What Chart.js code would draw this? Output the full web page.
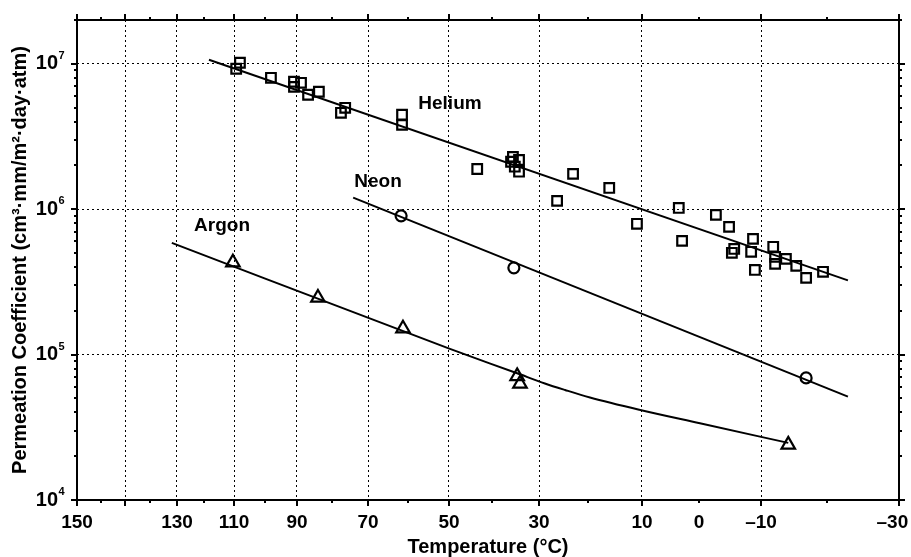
<!DOCTYPE html>
<html><head><meta charset="utf-8">
<script src="https://cdn.jsdelivr.net/npm/chart.js@4"></script>
<style>html,body{margin:0;padding:0;background:#fff}#wrap{width:911px;height:557px}</style>
</head><body><div id="wrap"><canvas id="c"></canvas></div>
<script>
// x axis is reciprocal temperature, 1000/T (K^-1); labels show nominal °C
const xTickValues = [2.3632, 2.4143, 2.4654, 2.5186, 2.5760, 2.6335, 2.6974, 2.7633, 2.8314, 2.9059, 2.9826, 3.0677, 3.1549, 3.2465, 3.3465, 3.4508, 3.5657, 3.6870, 3.8190, 3.9594, 4.1127];
const xTickLabels = ['150','','','','130','','110','','90','','70','','50','','30','','10','0','–10','','–30\u2002\u2009'];
const yDecades = [1e4, 1e5, 1e6, 1e7];
const yMin = 1e4, yMax = 2e7;

const heliumX = [2.710, 2.702, 2.776, 2.825, 2.840, 2.825, 2.855, 2.878, 2.934, 2.925, 3.055, 3.055, 3.215, 3.291, 3.304, 3.287, 3.295, 3.304, 3.419, 3.385, 3.496, 3.555, 3.644, 3.651, 3.723, 3.751, 3.762, 3.757, 3.802, 3.798, 3.806, 3.845, 3.849, 3.849, 3.872, 3.894, 3.915, 3.951];
const heliumP = [1.016e7, 9.24e6, 8.01e6, 7.52e6, 7.40e6, 6.94e6, 6.12e6, 6.42e6, 4.98e6, 4.60e6, 4.46e6, 3.80e6, 1.89e6, 2.29e6, 2.18e6, 2.12e6, 1.96e6, 1.81e6, 1.75e6, 1.14e6, 1.40e6, 7.93e5, 1.02e6, 6.05e5, 9.14e5, 7.56e5, 5.33e5, 5.01e5, 6.25e5, 5.09e5, 3.82e5, 5.51e5, 4.70e5, 4.21e5, 4.55e5, 4.08e5, 3.37e5, 3.71e5];
const neonX = [3.053, 3.293, 3.915];
const neonP = [9.00e5, 3.95e5, 6.91e4];
const argonX = [2.695, 2.876, 3.057, 3.300, 3.306, 3.877];
const argonP = [4.30e5, 2.46e5, 1.51e5, 7.1e4, 6.3e4, 2.4e4];

const heliumFitX = [2.644, 4.004];
const heliumFitP = [1.065e7, 3.24e5];
const neonFitX = [2.951, 4.004];
const neonFitP = [1.202e6, 5.14e4];
const argonFitX = [2.565, 3.157, 3.300, 3.359, 3.402, 3.455, 3.562, 3.689, 3.877];
const argonFitP = [5.87e5, 1.094e5, 7.44e4, 6.33e4, 5.71e4, 5.07e4, 4.16e4, 3.37e4, 2.47e4];

const gasNames = ['Helium', 'Neon', 'Argon'];
const gasLabelX = [3.157, 3.004, 2.672];
const gasLabelP = [5.31e6, 1.542e6, 7.68e5];

const FONT = '"Liberation Sans", Arial, Helvetica, sans-serif';
const pts = (xs, ys) => xs.map((v, i) => ({x: v, y: ys[i]}));

const yTickValues = [];
yDecades.forEach(d => { for (let m = 1; m <= 9; m++) { const v = m * d; if (v <= yMax) yTickValues.push(v); } });
const isDecade = v => Math.abs(Math.log10(v) - Math.round(Math.log10(v))) < 1e-9;

const framePlugin = {
  id: 'frame',
  afterDraw(chart) {
    const {ctx, chartArea: a, scales: {x, y}} = chart;
    ctx.save();
    ctx.strokeStyle = '#000';
    ctx.lineWidth = 2;
    ctx.beginPath();
    xTickValues.forEach((v, i) => {
      const px = Math.round(x.getPixelForValue(v));
      const L = i % 2 === 0 ? 6 : 3;
      ctx.moveTo(px, a.bottom); ctx.lineTo(px, a.bottom + L);
      ctx.moveTo(px, a.top); ctx.lineTo(px, a.top - L);
    });
    yTickValues.forEach(v => {
      const py = Math.round(y.getPixelForValue(v));
      const L = isDecade(v) ? 6 : 3;
      ctx.moveTo(a.left, py); ctx.lineTo(a.left - L, py);
      ctx.moveTo(a.right, py); ctx.lineTo(a.right + L, py);
    });
    ctx.stroke();
    ctx.strokeRect(a.left, a.top, a.right - a.left, a.bottom - a.top);
    // y tick labels 10^n
    ctx.fillStyle = '#000';
    yDecades.forEach(d => {
      const py = y.getPixelForValue(d);
      const e = Math.round(Math.log10(d));
      ctx.font = 'bold 20px ' + FONT;
      ctx.textAlign = 'right'; ctx.textBaseline = 'middle';
      ctx.fillText('10', a.left - 19, py);
      ctx.font = 'bold 11px ' + FONT;
      ctx.textAlign = 'left';
      ctx.fillText(String(e), a.left - 18.5, py - 8);
    });
    // gas labels
    ctx.font = 'bold 19px ' + FONT;
    ctx.textAlign = 'center'; ctx.textBaseline = 'middle';
    gasNames.forEach((n, i) => {
      ctx.fillText(n, x.getPixelForValue(gasLabelX[i]), y.getPixelForValue(gasLabelP[i]));
    });
    ctx.restore();
  }
};

const markerBase = {showLine: false, borderColor: '#000', backgroundColor: 'rgba(0,0,0,0)', borderWidth: 2.2};
const fitBase = {showLine: true, borderColor: '#000', borderWidth: 2, pointRadius: 0, pointHoverRadius: 0, fill: false};

new Chart(document.getElementById('c'), {
  type: 'scatter',
  data: {
    datasets: [
      {...fitBase, label: 'Helium fit', data: pts(heliumFitX, heliumFitP)},
      {...fitBase, label: 'Neon fit', data: pts(neonFitX, neonFitP)},
      {...fitBase, label: 'Argon fit', data: pts(argonFitX, argonFitP), cubicInterpolationMode: 'monotone'},
      {...markerBase, label: 'Helium', data: pts(heliumX, heliumP), pointStyle: 'rect', pointRadius: 6.8},
      {...markerBase, label: 'Neon', data: pts(neonX, neonP), pointStyle: 'circle', pointRadius: 5.5},
      {...markerBase, label: 'Argon', data: pts(argonX, argonP), pointStyle: 'triangle', pointRadius: 7.8}
    ]
  },
  options: {
    responsive: true,
    maintainAspectRatio: false,
    animation: false,
    events: [],
    layout: {padding: {top: 20, right: 12, left: 0, bottom: 0}, autoPadding: false},
    plugins: {legend: {display: false}, tooltip: {enabled: false}},
    scales: {
      x: {
        type: 'linear', min: 2.3632, max: 4.1127,
        afterBuildTicks: s => { s.ticks = xTickValues.map(v => ({value: v})); },
        afterFit: s => { s.height = 57; s.paddingLeft = 0; s.paddingRight = 0; s.paddingTop = 0; s.paddingBottom = 0; },
        ticks: {
          autoSkip: false, maxRotation: 0, padding: 13, color: '#000',
          font: {family: FONT, size: 19, weight: 'bold', lineHeight: 1},
          callback: (v, i) => xTickLabels[i]
        },
        grid: {
          drawTicks: false, lineWidth: 1,
          color: c => (c.index % 2 === 0 && c.index > 0 && c.index < xTickValues.length - 1) ? '#000' : 'rgba(0,0,0,0)'
        },
        border: {display: false, dash: [2, 3]},
        title: {display: true, text: 'Temperature (°C)', color: '#000', padding: {top: 0, bottom: 0},
                font: {family: FONT, size: 20, weight: 'bold', lineHeight: 1}}
      },
      y: {
        type: 'logarithmic', min: yMin, max: yMax,
        afterBuildTicks: s => { s.ticks = yTickValues.map(v => ({value: v})); },
        afterFit: s => { s.width = 77; s.paddingLeft = 0; s.paddingRight = 0; s.paddingTop = 0; s.paddingBottom = 0; },
        ticks: {display: false},
        grid: {
          drawTicks: false, lineWidth: 1,
          color: c => (c.tick && isDecade(c.tick.value) && c.tick.value > yMin) ? '#000' : 'rgba(0,0,0,0)'
        },
        border: {display: false, dash: [2, 3]},
        title: {display: true, text: 'Permeation Coefficient (cm³·mm/m²·day·atm)', color: '#000', padding: {top: 10, bottom: 0},
                font: {family: FONT, size: 20, weight: 'bold', lineHeight: 1}}
      }
    }
  },
  plugins: [framePlugin]
});
</script>
</body></html>
